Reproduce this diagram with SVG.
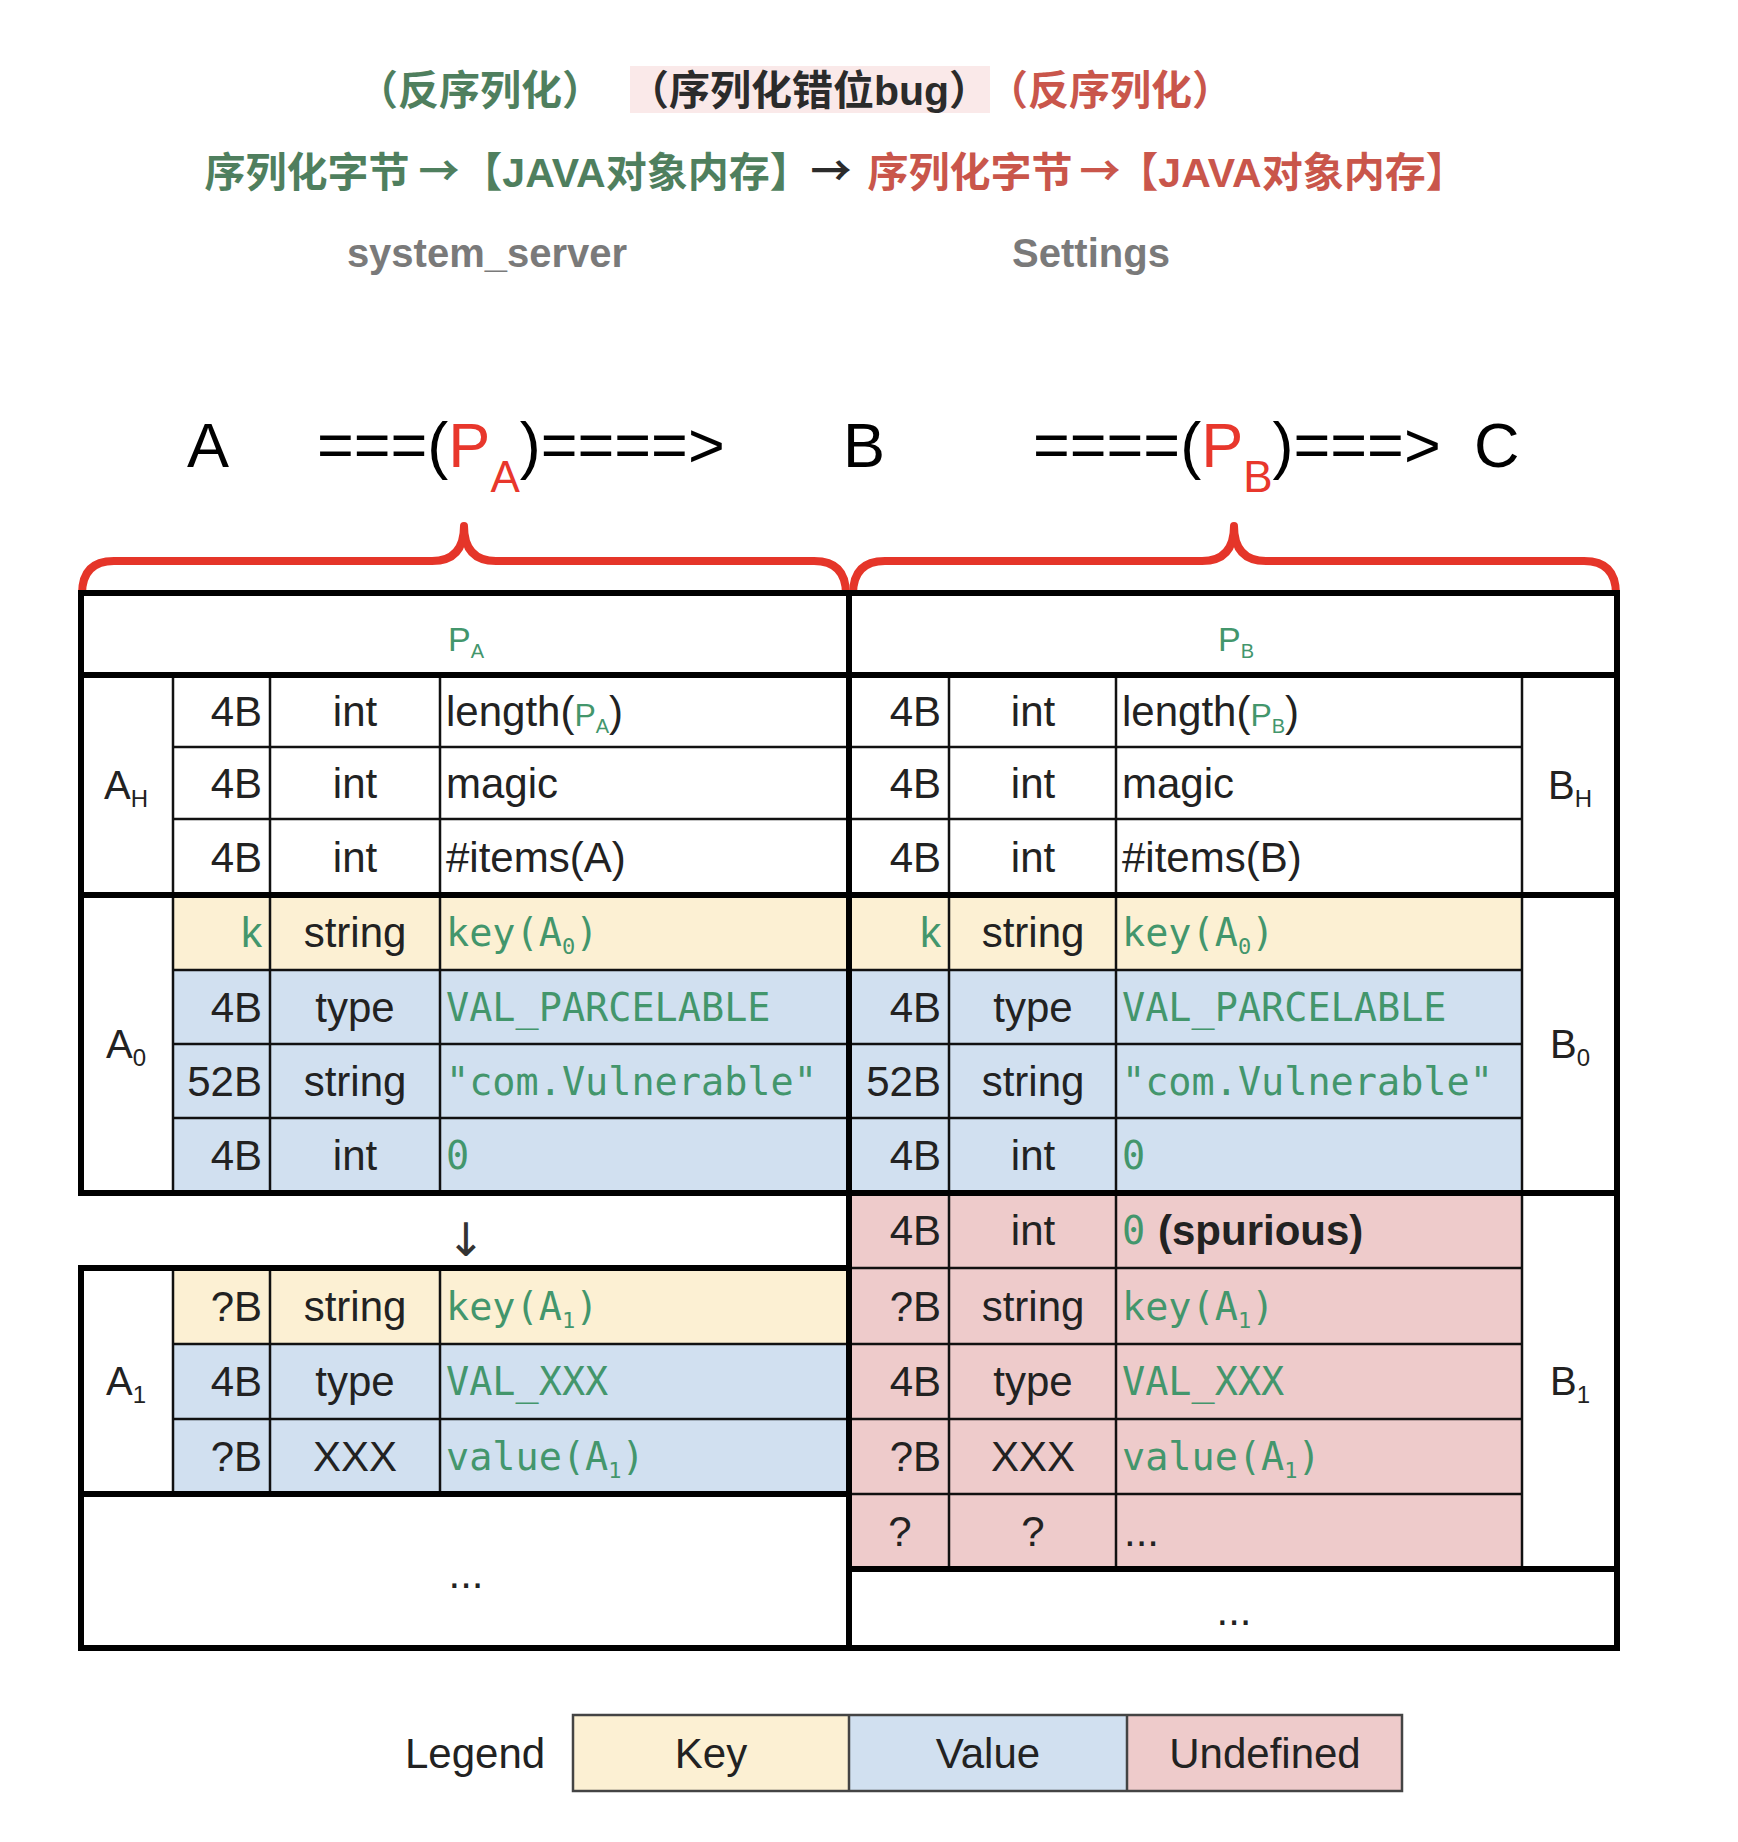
<svg xmlns="http://www.w3.org/2000/svg" width="1738" height="1842" viewBox="0 0 1738 1842">
<style>
.cjk{font-family:"Liberation Sans","Noto Sans CJK SC",sans-serif;font-weight:bold;font-size:41px}
.arr{font-family:"Noto Sans CJK SC","DejaVu Sans",sans-serif;font-weight:bold;font-size:41px;text-anchor:middle}
.gr{fill:#4f7f5e}
.rd{fill:#c9564b}
.bk{fill:#2b2b2b}
.gy{font-family:"Liberation Sans",Arial,sans-serif;font-weight:bold;font-size:40px;fill:#7a7a7a;text-anchor:middle}
.big{font-family:"Liberation Sans",Arial,sans-serif;font-size:63px;fill:#000}
.red{fill:#e8372c}
.t{font-family:"Liberation Sans",Arial,sans-serif;font-size:42px;fill:#222}
.lbl{font-family:"Liberation Sans",Arial,sans-serif;font-size:40px;fill:#222;text-anchor:middle}
.e{text-anchor:end}
.c{text-anchor:middle}
.m{font-family:"DejaVu Sans Mono","Liberation Mono",monospace;font-size:38.5px;fill:#43966c}
.g{fill:#43966c}
.key{fill:#fcf0d3}
.val{fill:#d1e0f0}
.und{fill:#eecbcb}
.thick{stroke:#000;stroke-width:6;stroke-linecap:square;fill:none}
.thin{stroke:#111;stroke-width:2.5;fill:none}
.brace{stroke:#e53529;stroke-width:8;fill:none;stroke-linejoin:round}
</style>

<g id="titles">
  <rect x="630" y="66" width="360" height="47" fill="#fae9e9"/>
  <text class="cjk gr c" x="480" y="105">（反序列化）</text>
  <text class="cjk bk c" x="809" y="105">（序列化错位bug）</text>
  <text class="cjk rd c" x="1110" y="105">（反序列化）</text>

  <text class="cjk gr c" x="307" y="187">序列化字节</text>
  <text class="arr gr" x="439" y="186">→</text>
  <text class="cjk gr c" x="636" y="187">【JAVA对象内存】</text>
  <text class="arr bk" x="831" y="186">→</text>
  <text class="cjk rd c" x="970" y="187">序列化字节</text>
  <text class="arr rd" x="1100" y="186">→</text>
  <text class="cjk rd c" x="1292" y="187">【JAVA对象内存】</text>

  <text class="gy" x="487" y="267">system_server</text>
  <text class="gy" x="1091" y="267">Settings</text>
</g>

<g id="flow">
  <text class="big" x="187" y="467">A</text>
  <text class="big" x="317" y="467">===(<tspan class="red">P</tspan><tspan class="red" font-size="44" dy="25">A</tspan><tspan dy="-25">)====&gt;</tspan></text>
  <text class="big" x="843" y="467">B</text>
  <text class="big" x="1033" y="467">====(<tspan class="red">P</tspan><tspan class="red" font-size="44" dy="25">B</tspan><tspan dy="-25">)===&gt;</tspan></text>
  <text class="big" x="1474" y="467">C</text>
</g>

<g id="braces">
  <path class="brace" d="M 82 594 Q 82 561 114 561 L 432 561 Q 464 561 464 526 Q 464 561 496 561 L 814 561 Q 846 561 846 594"/>
  <path class="brace" d="M 853 594 Q 853 561 885 561 L 1202 561 Q 1234 561 1234 526 Q 1234 561 1266 561 L 1584 561 Q 1616 561 1616 594"/>
</g>

<g id="fills">
  <rect class="key" x="173" y="895" width="676" height="75"/>
  <rect class="val" x="173" y="970" width="676" height="223"/>
  <rect class="key" x="849" y="895" width="673" height="75"/>
  <rect class="val" x="849" y="970" width="673" height="223"/>
  <rect class="key" x="173" y="1268" width="676" height="76"/>
  <rect class="val" x="173" y="1344" width="676" height="150"/>
  <rect class="und" x="849" y="1193" width="673" height="376"/>
</g>

<g id="grid">
  <path class="thin" d="M173 747H849M173 819H849M849 747H1522M849 819H1522
    M173 970H849M173 1044H849M173 1118H849M849 970H1522M849 1044H1522M849 1118H1522
    M849 1268H1522M173 1344H849M173 1419H849M849 1344H1522M849 1419H1522M849 1494H1522"/>
  <path class="thin" d="M173 675V1193M270 675V1193M440 675V1193
    M173 1268V1494M270 1268V1494M440 1268V1494
    M949 675V1569M1116 675V1569M1522 675V1569"/>
  <path class="thick" d="M81 593H1617M81 675H1617M81 895H1617M81 1193H1617
    M81 1268H849M81 1494H849M849 1569H1617M81 1648H1617
    M81 593V1193M81 1268V1648M849 593V1648M1617 593V1648"/>
</g>

<g id="table-left">
  <text class="t c" x="466" y="651"><tspan class="g" font-size="34">P</tspan><tspan class="g" font-size="20" dy="7">A</tspan></text>
  <text class="lbl" x="126" y="799">A<tspan font-size="24" dy="8">H</tspan></text>
  <text class="lbl" x="126" y="1058">A<tspan font-size="24" dy="8">0</tspan></text>
  <text class="lbl" x="126" y="1395">A<tspan font-size="24" dy="8">1</tspan></text>

  <text class="t e" x="262" y="726">4B</text><text class="t c" x="355" y="726">int</text>
  <text class="t" x="446" y="726">length(<tspan class="g" font-size="32">P</tspan><tspan class="g" font-size="20" dy="7">A</tspan><tspan dy="-7">)</tspan></text>
  <text class="t e" x="262" y="798">4B</text><text class="t c" x="355" y="798">int</text><text class="t" x="446" y="798">magic</text>
  <text class="t e" x="262" y="872">4B</text><text class="t c" x="355" y="872">int</text><text class="t" x="446" y="872">#items(A)</text>

  <text class="t e g" x="262" y="947">k</text><text class="t c" x="355" y="947">string</text>
  <text class="m" x="446" y="946">key(A<tspan font-size="22" dy="8">0</tspan><tspan dy="-8">)</tspan></text>
  <text class="t e" x="262" y="1022">4B</text><text class="t c" x="355" y="1022">type</text><text class="m" x="446" y="1021">VAL_PARCELABLE</text>
  <text class="t e" x="262" y="1096">52B</text><text class="t c" x="355" y="1096">string</text><text class="m" x="446" y="1095">"com.Vulnerable"</text>
  <text class="t e" x="262" y="1170">4B</text><text class="t c" x="355" y="1170">int</text><text class="m" x="446" y="1169">0</text>

  <text x="466" y="1256" font-family="DejaVu Sans, sans-serif" font-size="46" fill="#333" text-anchor="middle">↓</text>

  <text class="t e" x="262" y="1321">?B</text><text class="t c" x="355" y="1321">string</text>
  <text class="m" x="446" y="1320">key(A<tspan font-size="22" dy="8">1</tspan><tspan dy="-8">)</tspan></text>
  <text class="t e" x="262" y="1396">4B</text><text class="t c" x="355" y="1396">type</text><text class="m" x="446" y="1395">VAL_XXX</text>
  <text class="t e" x="262" y="1471">?B</text><text class="t c" x="355" y="1471">XXX</text>
  <text class="m" x="446" y="1470">value(A<tspan font-size="22" dy="8">1</tspan><tspan dy="-8">)</tspan></text>

  <text class="t c" x="466" y="1588" font-size="36" fill="#444">...</text>
</g>

<g id="table-right">
  <text class="t c" x="1236" y="651"><tspan class="g" font-size="34">P</tspan><tspan class="g" font-size="20" dy="7">B</tspan></text>
  <text class="lbl" x="1570" y="799">B<tspan font-size="24" dy="8">H</tspan></text>
  <text class="lbl" x="1570" y="1058">B<tspan font-size="24" dy="8">0</tspan></text>
  <text class="lbl" x="1570" y="1395">B<tspan font-size="24" dy="8">1</tspan></text>

  <text class="t e" x="941" y="726">4B</text><text class="t c" x="1033" y="726">int</text>
  <text class="t" x="1122" y="726">length(<tspan class="g" font-size="32">P</tspan><tspan class="g" font-size="20" dy="7">B</tspan><tspan dy="-7">)</tspan></text>
  <text class="t e" x="941" y="798">4B</text><text class="t c" x="1033" y="798">int</text><text class="t" x="1122" y="798">magic</text>
  <text class="t e" x="941" y="872">4B</text><text class="t c" x="1033" y="872">int</text><text class="t" x="1122" y="872">#items(B)</text>

  <text class="t e g" x="941" y="947">k</text><text class="t c" x="1033" y="947">string</text>
  <text class="m" x="1122" y="946">key(A<tspan font-size="22" dy="8">0</tspan><tspan dy="-8">)</tspan></text>
  <text class="t e" x="941" y="1022">4B</text><text class="t c" x="1033" y="1022">type</text><text class="m" x="1122" y="1021">VAL_PARCELABLE</text>
  <text class="t e" x="941" y="1096">52B</text><text class="t c" x="1033" y="1096">string</text><text class="m" x="1122" y="1095">"com.Vulnerable"</text>
  <text class="t e" x="941" y="1170">4B</text><text class="t c" x="1033" y="1170">int</text><text class="m" x="1122" y="1169">0</text>

  <text class="t e" x="941" y="1245">4B</text><text class="t c" x="1033" y="1245">int</text>
  <text class="m" x="1122" y="1244">0</text><text class="t" x="1158" y="1245" font-weight="bold">(spurious)</text>
  <text class="t e" x="941" y="1321">?B</text><text class="t c" x="1033" y="1321">string</text>
  <text class="m" x="1122" y="1320">key(A<tspan font-size="22" dy="8">1</tspan><tspan dy="-8">)</tspan></text>
  <text class="t e" x="941" y="1396">4B</text><text class="t c" x="1033" y="1396">type</text><text class="m" x="1122" y="1395">VAL_XXX</text>
  <text class="t e" x="941" y="1471">?B</text><text class="t c" x="1033" y="1471">XXX</text>
  <text class="m" x="1122" y="1470">value(A<tspan font-size="22" dy="8">1</tspan><tspan dy="-8">)</tspan></text>
  <text class="t c" x="900" y="1546">?</text><text class="t c" x="1033" y="1546">?</text>
  <text class="t" x="1124" y="1546" font-size="36">...</text>

  <text class="t c" x="1234" y="1625" font-size="36" fill="#444">...</text>
</g>

<g id="legend">
  <text class="t" x="405" y="1768">Legend</text>
  <rect class="key" x="573" y="1715" width="276" height="76"/>
  <rect class="val" x="849" y="1715" width="278" height="76"/>
  <rect class="und" x="1127" y="1715" width="275" height="76"/>
  <path d="M573 1715H1402V1791H573ZM849 1715V1791M1127 1715V1791" fill="none" stroke="#444" stroke-width="2.5"/>
  <text class="t c" x="711" y="1768">Key</text>
  <text class="t c" x="988" y="1768">Value</text>
  <text class="t c" x="1265" y="1768">Undefined</text>
</g>
</svg>
